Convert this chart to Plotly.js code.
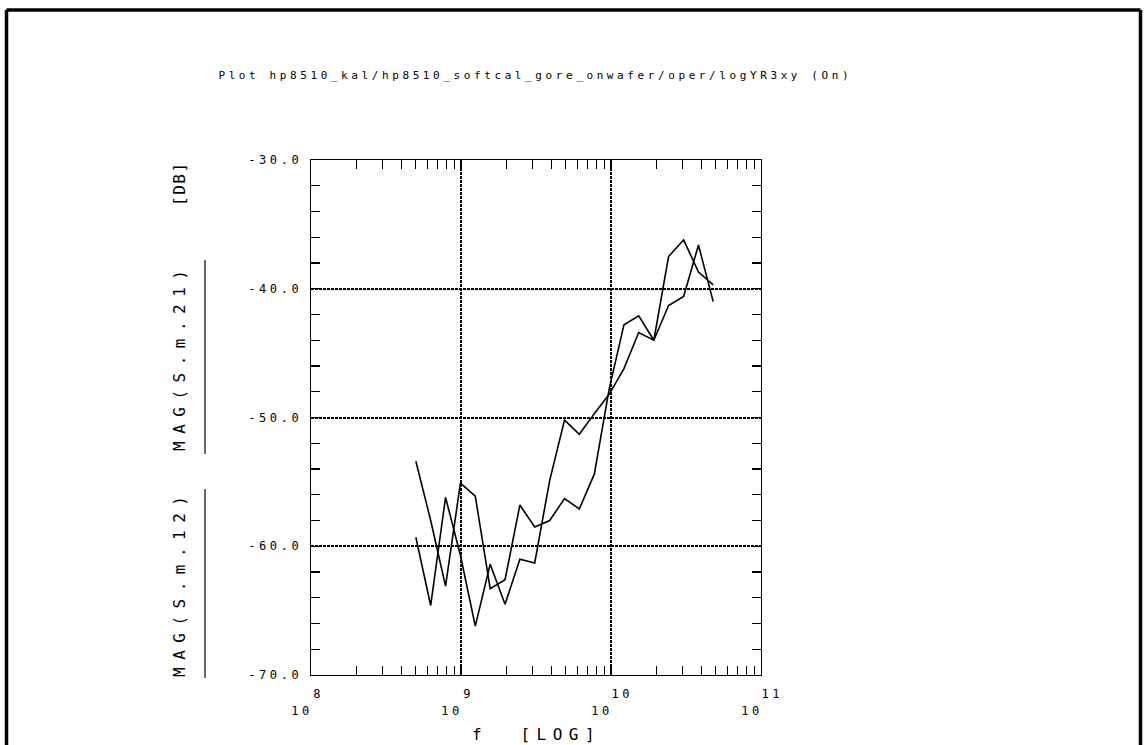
<!DOCTYPE html>
<html>
<head>
<meta charset="utf-8">
<script src="https://cdn.plot.ly/plotly-3.0.1.min.js"></script>
<style>
html,body{margin:0;padding:0;background:#fff;}
#chart{width:1147px;height:745px;}
#chart text{letter-spacing:3.6px;}
</style>
</head>
<body>
<div id="chart"></div>
<script>
// ---- data ----
const freqHz = [0.500e9, 0.628e9, 0.789e9, 0.991e9, 1.245e9, 1.565e9, 1.966e9, 2.47e9, 3.10e9, 3.90e9,
                4.90e9, 6.15e9, 7.74e9, 9.72e9, 12.2e9, 15.3e9, 19.3e9, 24.2e9, 30.5e9, 38.3e9, 48.0e9];
const magS21 = [-53.4, -58.0, -63.1, -55.1, -56.1, -63.3, -62.6, -56.8, -58.5, -58.0,
                -56.3, -57.1, -54.4, -47.8, -42.8, -42.1, -44.0, -37.5, -36.2, -38.7, -39.7];
const magS12 = [-59.3, -64.6, -56.2, -60.7, -66.2, -61.4, -64.5, -61.0, -61.3, -54.9,
                -50.2, -51.3, -49.7, -48.2, -46.2, -43.4, -44.0, -41.3, -40.6, -36.6, -41.0];
const yTickVals = [-70, -60, -50, -40, -30];
const yTickText = ['-70.0', '-60.0', '-50.0', '-40.0', '-30.0'];
const xTickVals = [1e8, 1e9, 1e10, 1e11];
const xTickBase = ['10', '10', '10', '10'];
const xTickExp = ['8', '9', '10', '11'];
const titleText = 'Plot hp8510_kal/hp8510_softcal_gore_onwafer/oper/logYR3xy (On)';
const yUnitText = '[DB]';
const yLabel21 = 'MAG(S.m.21)';
const yLabel12 = 'MAG(S.m.12)';
const xLabelText = 'f&nbsp;&nbsp;[LOG]';

// ---- layout geometry (pixels) ----
const W = 1147, H = 745;
const L = 311, R = 761, T = 160, B = 675;
const px = x => (x - L) / (R - L);
const py = y => (B - y) / (B - T);
const FONT = 'DejaVu Sans Mono';

const lineStyle = {color: '#000', width: 1.6};
const traces = [
  {x: freqHz, y: magS21, type: 'scatter', mode: 'lines', name: yLabel21, line: lineStyle},
  {x: freqHz, y: magS12, type: 'scatter', mode: 'lines', name: yLabel12, line: lineStyle}
];

const spaced = (t, ls) => '<span style="letter-spacing:' + ls + 'px">' + t + '</span>';

const annotations = [
  {text: titleText, xref: 'paper', yref: 'paper', x: px(535), y: py(76),
   xanchor: 'center', yanchor: 'middle', showarrow: false, font: {family: FONT, size: 11, color: '#000'}},
  {text: spaced(yUnitText, 1.5), xref: 'paper', yref: 'paper', x: px(179), y: py(184), textangle: -90,
   xanchor: 'center', yanchor: 'middle', showarrow: false, font: {family: FONT, size: 16, color: '#000'}},
  {text: spaced(yLabel21, 7.5), xref: 'paper', yref: 'paper', x: px(179), y: py(357), textangle: -90,
   xanchor: 'center', yanchor: 'middle', showarrow: false, font: {family: FONT, size: 16, color: '#000'}},
  {text: spaced(yLabel12, 7.5), xref: 'paper', yref: 'paper', x: px(179), y: py(583), textangle: -90,
   xanchor: 'center', yanchor: 'middle', showarrow: false, font: {family: FONT, size: 16, color: '#000'}},
  {text: spaced(xLabelText, 6.5), xref: 'paper', yref: 'paper', x: px(536), y: py(734),
   xanchor: 'center', yanchor: 'middle', showarrow: false, font: {family: FONT, size: 16, color: '#000'}}
];
xTickVals.forEach((v, i) => {
  annotations.push({text: xTickExp[i], xref: 'x', yref: 'paper', x: Math.log10(v), y: py(694),
    xanchor: 'left', yanchor: 'middle', xshift: 2, showarrow: false,
    font: {family: FONT, size: 12, color: '#000'}});
});

const shapes = [
  // outer plotter frame
  {type: 'line', xref: 'paper', yref: 'paper', x0: px(6.5), x1: px(1140.5), y0: py(10), y1: py(10), line: {color: '#000', width: 3.5}},
  {type: 'line', xref: 'paper', yref: 'paper', x0: px(6.5), x1: px(6.5), y0: py(10), y1: py(760), line: {color: '#000', width: 3.5}},
  {type: 'line', xref: 'paper', yref: 'paper', x0: px(1140.5), x1: px(1140.5), y0: py(10), y1: py(760), line: {color: '#000', width: 3.5}},
  // label bars next to the y labels
  {type: 'line', xref: 'paper', yref: 'paper', x0: px(205), x1: px(205), y0: py(260), y1: py(454), line: {color: '#000', width: 1.2}},
  {type: 'line', xref: 'paper', yref: 'paper', x0: px(205), x1: px(205), y0: py(489), y1: py(678), line: {color: '#000', width: 1.2}}
];

const axisCommon = {
  showline: true, linecolor: '#000', linewidth: 1.3, mirror: 'allticks',
  ticks: 'inside', ticklen: 9, tickwidth: 1.2, tickcolor: '#000',
  showgrid: true, gridcolor: '#000', griddash: '3px,1px',
  zeroline: false, fixedrange: true,
  tickfont: {family: FONT, size: 12, color: '#000'}
};

const layout = {
  width: W, height: H,
  margin: {l: L, r: W - R, t: T, b: H - B, pad: 0},
  paper_bgcolor: '#fff', plot_bgcolor: '#fff',
  showlegend: false,
  font: {family: FONT, size: 12, color: '#000'},
  xaxis: Object.assign({}, axisCommon, {
    type: 'log', range: [8, 11], gridwidth: 1.4,
    tickmode: 'array', tickvals: xTickVals, ticktext: xTickBase,
    ticklabelshift: -9, ticklabelstandoff: 24,
    minor: {ticks: 'inside', ticklen: 9, tickwidth: 1.2, tickcolor: '#000', dtick: 'D1', showgrid: false}
  }),
  yaxis: Object.assign({}, axisCommon, {
    range: [-70, -30], gridwidth: 2,
    tickmode: 'array', tickvals: yTickVals, ticktext: yTickText,
    ticklabelstandoff: 5,
    minor: {ticks: 'inside', ticklen: 9, tickwidth: 1.2, tickcolor: '#000', dtick: 2, showgrid: false}
  }),
  annotations: annotations,
  shapes: shapes
};

Plotly.newPlot('chart', traces, layout, {displayModeBar: false, staticPlot: true});
</script>
</body>
</html>
